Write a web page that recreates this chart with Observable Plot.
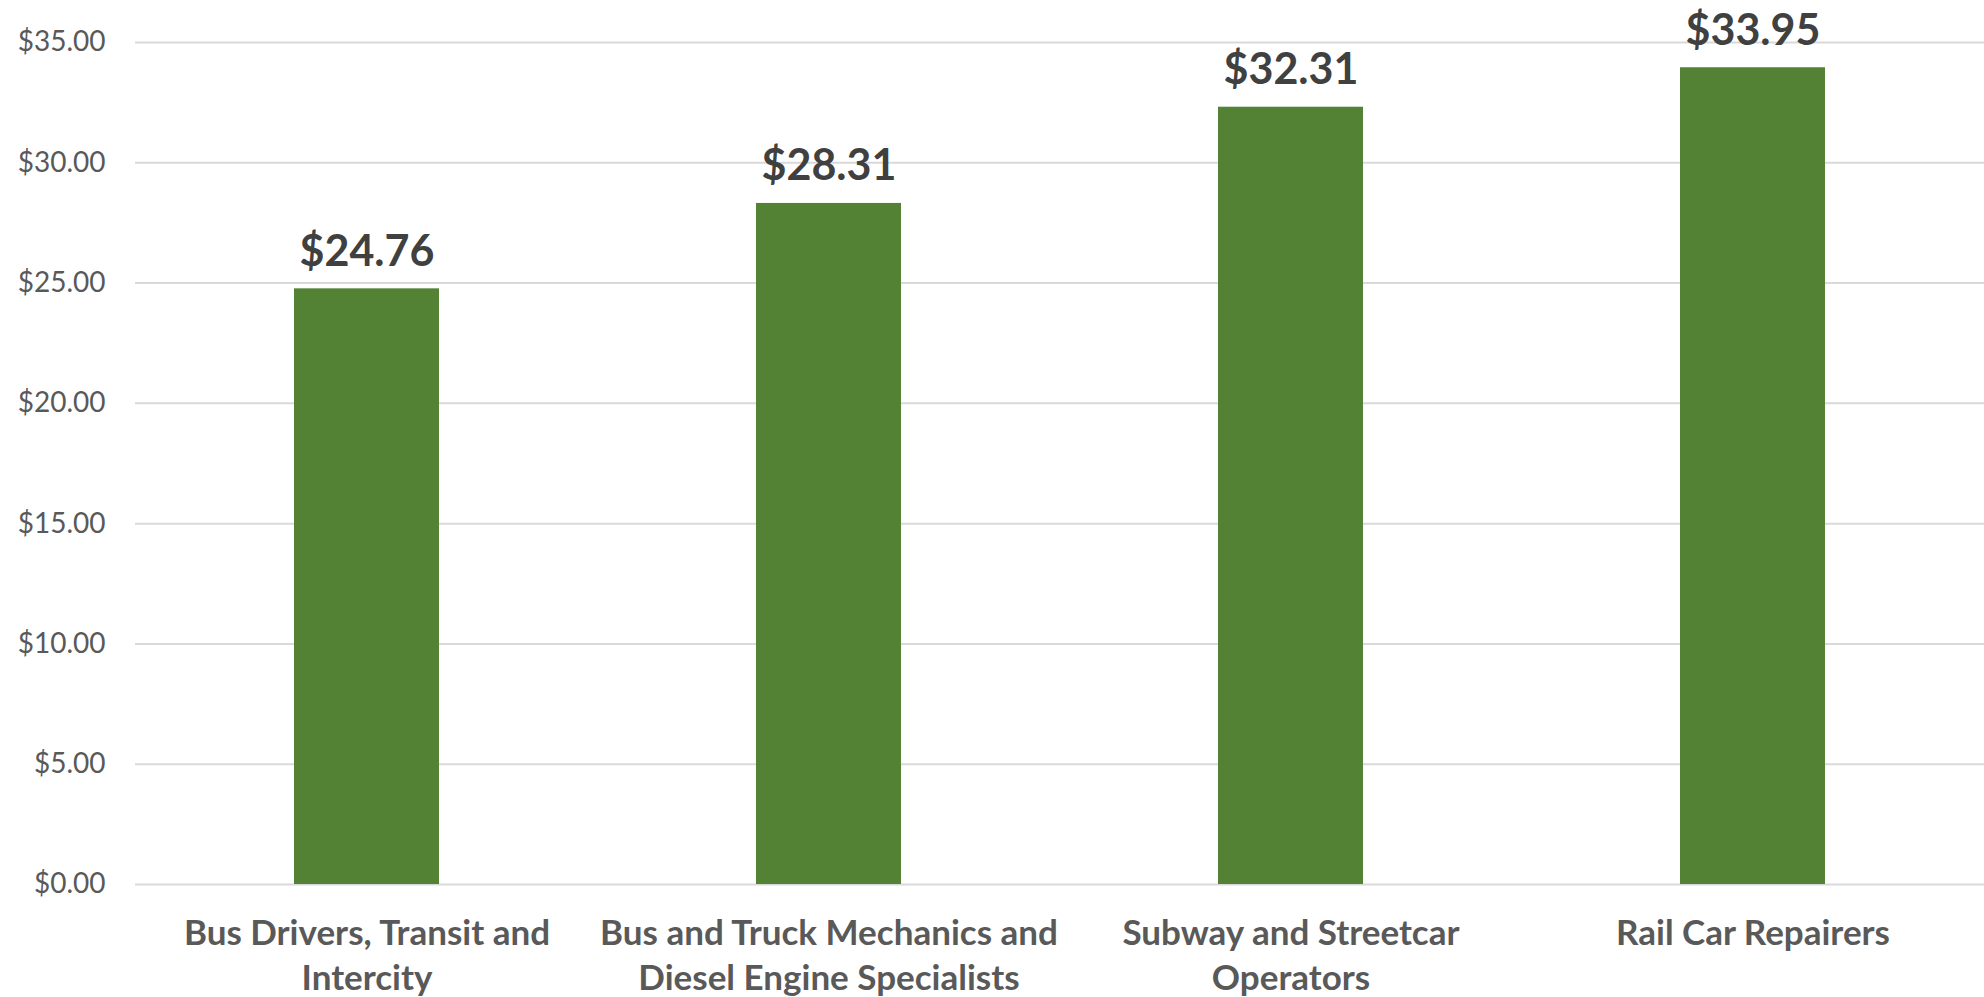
<!DOCTYPE html>
<html>
<head>
<meta charset="utf-8">
<script src="https://cdn.jsdelivr.net/npm/d3@7"></script>
<script src="https://cdn.jsdelivr.net/npm/@observablehq/plot@0.6"></script>
<style>
  html, body { margin: 0; padding: 0; background: #ffffff; }
  #chart svg { display: block; }
</style>
</head>
<body>
<div id="chart"></div>
<script>
const categories = [
  "Bus Drivers, Transit and Intercity",
  "Bus and Truck Mechanics and Diesel Engine Specialists",
  "Subway and Streetcar Operators",
  "Rail Car Repairers"
];
const wrappedLabels = [
  "Bus Drivers, Transit and\nIntercity",
  "Bus and Truck Mechanics and\nDiesel Engine Specialists",
  "Subway and Streetcar\nOperators",
  "Rail Car Repairers"
];
const wages = [24.76, 28.31, 32.31, 33.95];
const yTicks = [0, 5, 10, 15, 20, 25, 30, 35];

const data = categories.map((c, i) => ({category: c, wage: wages[i]}));
const labelOf = new Map(categories.map((c, i) => [c, wrappedLabels[i]]));
const money = v => "$" + v.toFixed(2);

const chart = Plot.plot({
  width: 1984,
  height: 997,
  marginLeft: 135,
  marginRight: 0,
  marginTop: 42,
  marginBottom: 113,
  style: {fontFamily: "Lato, 'Open Sans', sans-serif", background: "#ffffff"},
  x: {domain: categories, paddingInner: 0.687, paddingOuter: 0.3415},
  y: {domain: [0, 35]},
  marks: [
    Plot.gridY(yTicks, {stroke: "#d9d9d9", strokeOpacity: 1, strokeWidth: 2}),
    Plot.barY(data, {x: "category", y: "wage", fill: "#548235"}),
    Plot.text(data, {
      x: "category", y: "wage", text: d => money(d.wage),
      lineAnchor: "bottom", dy: -23,
      fontSize: 43, fontWeight: "bold", fill: "#404040"
    }),
    Plot.axisY(yTicks, {
      tickSize: 0, tickPadding: 30, tickFormat: money,
      fontSize: 28, fill: "#595959", label: null
    }),
    Plot.axisX({
      tickSize: 0, tickPadding: 28, tickFormat: c => labelOf.get(c),
      fontSize: 35, fontWeight: "bold", fill: "#595959", lineHeight: 1.29, label: null
    })
  ]
});
document.getElementById("chart").appendChild(chart);
</script>
</body>
</html>
